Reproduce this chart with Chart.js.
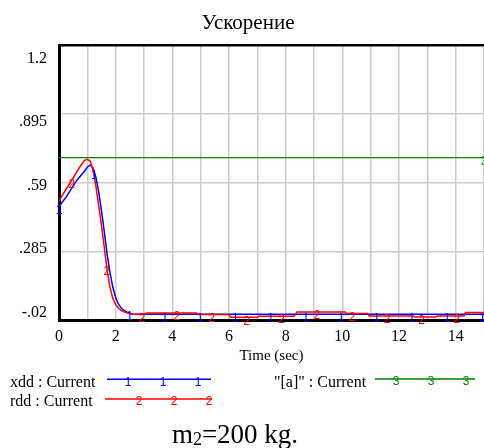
<!DOCTYPE html>
<html lang="ru">
<head>
  <meta charset="UTF-8" />
  <title>Ускорение</title>
  <script src="https://cdn.jsdelivr.net/npm/chart.js"></script>
  <style>
    * {
      margin: 0;
      padding: 0;
      box-sizing: border-box;
    }

    body {
      background-color: #ffffff;
      width: 484px;
      height: 448px;
      overflow: hidden;
    }

    canvas {
      display: block;
    }
  </style>
</head>
<body>

  <canvas id="accelChart" width="484" height="448"></canvas>

  <script>
    // sample times (sec)
    const time = [0, 0.1, 0.25, 0.45, 0.6, 0.75, 0.9, 1.0, 1.1, 1.2, 1.3, 1.4, 1.5, 1.6, 1.7, 1.8, 1.9, 2.0, 2.1, 2.2, 2.4, 2.6,
      3.0, 3.1, 4.85, 4.9, 6.0, 6.05, 7.0, 7.05, 8.3, 8.4, 10.1, 10.15, 10.9, 10.95, 12.5, 12.55, 13.3, 13.35, 14.3, 14.35, 15];

    // xdd : Current (blue, "1")
    const xdd = [0.482, 0.5, 0.525, 0.565, 0.595, 0.618, 0.64, 0.658, 0.668, 0.655, 0.615, 0.55, 0.465, 0.37, 0.27, 0.19, 0.125, 0.08, 0.05, 0.032, 0.014, 0.006,
      0.005, 0.005, 0.005, 0.005, 0.005, 0.005, 0.005, 0.005, 0.005, 0.005, 0.005, 0.005, 0.005, 0.005, 0.005, 0.005, 0.005, 0.005, 0.005, 0.005, 0.005];

    // rdd : Current (red, "2")
    const rdd = [0.508, 0.53, 0.56, 0.6, 0.632, 0.662, 0.688, 0.693, 0.685, 0.645, 0.575, 0.49, 0.4, 0.3, 0.2, 0.125, 0.075, 0.048, 0.032, 0.022, 0.012, 0.005,
      0.004, 0.011, 0.011, 0.004, 0.004, -0.008, -0.008, -0.003, -0.003, 0.016, 0.016, 0.009, 0.009, -0.002, -0.002, -0.007, -0.007, -0.002, -0.002, 0.013, 0.013];

    // "[a]" : Current (green, "3")
    const aTime = [0, 15];
    const aLevel = [0.7, 0.7];

    // where the series numbers are written along each line
    const xddMarks = [0, 1.245, 2.49, 3.735, 4.98, 6.225, 7.47, 8.715, 9.96, 11.205, 12.45, 13.695, 14.94];
    const rddMarks = [0.45, 1.69, 2.93, 4.16, 5.39, 6.62, 7.86, 9.1, 10.34, 11.58, 12.8, 14.04];
    const aMarks = [15];

    const xTicks = [0, 2, 4, 6, 8, 10, 12, 14];
    const yTicks = [-0.02, 0.285, 0.59, 0.895, 1.2];
    const yTickLabels = ['-.02', '.285', '.59', '.895', '1.2'];

    const serif = "'Liberation Serif', 'Times New Roman', serif";
    const sans = "'Liberation Sans', Arial, sans-serif";

    function toPoints(ts, vs) {
      return ts.map((t, i) => ({ x: t, y: vs[i] }));
    }

    function interp(ts, vs, t) {
      for (let i = 1; i < ts.length; i++) {
        if (t <= ts[i]) {
          const f = (t - ts[i - 1]) / (ts[i] - ts[i - 1]);
          return vs[i - 1] + f * (vs[i] - vs[i - 1]);
        }
      }
      return vs[vs.length - 1];
    }

    const series = [
      { label: 'xdd : Current', color: '#0000ff', ts: time, vs: xdd, marks: xddMarks, digit: '1' },
      { label: 'rdd : Current', color: '#ff0000', ts: time, vs: rdd, marks: rddMarks, digit: '2' },
      { label: '"[a]" : Current', color: '#008000', ts: aTime, vs: aLevel, marks: aMarks, digit: '3' }
    ];

    // vensim style extras: numbers on the lines, labels, legend, caption
    const vensimExtras = {
      id: 'vensimExtras',
      afterDatasetsDraw(chart) {
        const c = chart.ctx;
        const xs = chart.scales.x;
        const ys = chart.scales.y;
        c.save();
        c.font = '12px ' + sans;
        c.textAlign = 'center';
        c.textBaseline = 'middle';
        series.forEach(s => {
          c.fillStyle = s.color;
          s.marks.forEach(t => {
            const px = xs.getPixelForValue(t);
            const py = ys.getPixelForValue(interp(s.ts, s.vs, t));
            c.fillText(s.digit, px, py + 4);
          });
        });
        c.restore();
      },
      afterDraw(chart) {
        const c = chart.ctx;
        const ys = chart.scales.y;
        const area = chart.chartArea;
        c.save();
        c.fillStyle = '#000';

        // title
        c.font = '21px ' + serif;
        c.textAlign = 'center';
        c.textBaseline = 'alphabetic';
        c.fillText('Ускорение', 248, 29);

        // y labels, squeezed toward the middle like the original
        c.font = '16px ' + serif;
        c.textAlign = 'right';
        for (let i = yTicks.length - 1; i >= 0; i--) {
          const k = yTicks.length - 1 - i;
          const py = ys.getPixelForValue(yTicks[i]);
          c.fillText(yTickLabels[i], 47, py + 17.7 - 5.3 * k);
        }

        // x axis title
        c.font = '15px ' + serif;
        c.textAlign = 'center';
        c.fillText('Time (sec)', (area.left + area.right) / 2, 360);

        // legend
        const rows = [
          { s: series[0], tx: 10, ty: 386.7, x1: 107, x2: 211, ly: 379.3, dx: [128, 163, 198] },
          { s: series[1], tx: 10, ty: 405.7, x1: 105, x2: 212, ly: 399, dx: [139, 174, 209] },
          { s: series[2], tx: 274, ty: 386.7, x1: 375, x2: 475, ly: 379, dx: [396, 431, 466] }
        ];
        rows.forEach(r => {
          c.fillStyle = '#000';
          c.font = '16px ' + serif;
          c.textAlign = 'left';
          c.textBaseline = 'alphabetic';
          c.fillText(r.s.label, r.tx, r.ty);
          c.strokeStyle = r.s.color;
          c.lineWidth = 1.5;
          c.beginPath();
          c.moveTo(r.x1, r.ly);
          c.lineTo(r.x2, r.ly);
          c.stroke();
          c.fillStyle = r.s.color;
          c.font = '12px ' + sans;
          c.textAlign = 'center';
          c.textBaseline = 'middle';
          r.dx.forEach(x => c.fillText(r.s.digit, x, r.ly + 3));
        });

        // caption m2=200 kg.
        c.fillStyle = '#000';
        c.textAlign = 'left';
        c.textBaseline = 'alphabetic';
        c.font = '27px ' + serif;
        const wM = c.measureText('m').width;
        const wRest = c.measureText('=200 kg.').width;
        c.font = '18px ' + serif;
        const wSub = c.measureText('2').width;
        let cx = 235 - (wM + wSub + wRest) / 2;
        c.font = '27px ' + serif;
        c.fillText('m', cx, 443);
        cx += wM;
        c.font = '18px ' + serif;
        c.fillText('2', cx, 445);
        cx += wSub;
        c.font = '27px ' + serif;
        c.fillText('=200 kg.', cx, 443);

        c.restore();
      }
    };

    const ctx = document.getElementById('accelChart').getContext('2d');

    const accelChart = new Chart(ctx, {
      type: 'line',
      data: {
        datasets: series.map((s, i) => ({
          label: s.label,
          data: toPoints(s.ts, s.vs),
          borderColor: s.color,
          borderWidth: i === 2 ? 1.2 : 1.5,
          pointRadius: 0,
          tension: 0,
          fill: false,
          order: 2 - i
        }))
      },
      options: {
        responsive: false,
        animation: false,
        events: [],
        layout: {
          padding: { left: 0, top: 45, right: 0, bottom: 98 }
        },
        plugins: {
          legend: { display: false },
          title: { display: false },
          tooltip: { enabled: false }
        },
        scales: {
          x: {
            type: 'linear',
            min: 0,
            max: 15,
            afterBuildTicks: scale => {
              scale.ticks = Array.from({ length: 16 }, (_, i) => ({ value: i }));
            },
            afterFit: scale => {
              scale.height = 30;
              scale.paddingLeft = 0;
              scale.paddingRight = 0;
            },
            ticks: {
              autoSkip: false,
              maxRotation: 0,
              padding: 7,
              color: '#000',
              font: { family: serif, size: 16 },
              callback: v => (xTicks.includes(v) ? String(v) : '')
            },
            grid: {
              drawTicks: false,
              color: c => (c.tick && c.tick.value === 0 ? 'rgba(0,0,0,0)' : '#cccccc'),
              lineWidth: 1.5
            },
            border: { color: '#000', width: 3 }
          },
          y: {
            min: -0.02,
            max: 1.2,
            afterBuildTicks: scale => {
              scale.ticks = yTicks.map(v => ({ value: v }));
            },
            afterFit: scale => {
              scale.width = 59;
              scale.paddingTop = 0;
              scale.paddingBottom = 0;
            },
            ticks: { display: false },
            grid: {
              drawTicks: false,
              color: c => (c.tick && c.tick.value === 1.2 ? '#000' : '#cccccc'),
              lineWidth: c => (c.tick && c.tick.value === 1.2 ? 2.5 : 1.5)
            },
            border: { color: '#000', width: 3 }
          }
        }
      },
      plugins: [vensimExtras]
    });
  </script>

</body>
</html>
